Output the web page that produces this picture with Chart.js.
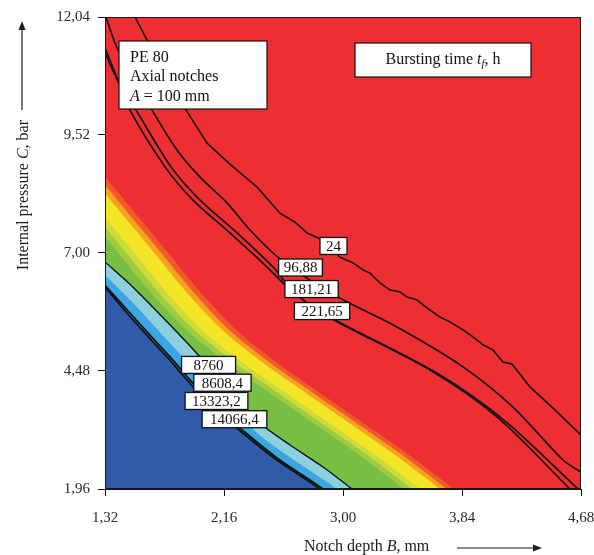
<!DOCTYPE html>
<html><head><meta charset="utf-8">
<script src="https://cdn.jsdelivr.net/npm/chart.js@4.4.1/dist/chart.umd.min.js"></script>
<style>html,body{margin:0;padding:0;background:#fff;}canvas{display:block;}</style>
</head><body>
<canvas id="c" width="594" height="555"></canvas>
<script>
// ---- tick values / labels ----
const xTicks = [1.32, 2.16, 3.00, 3.84, 4.68];
const yTicks = [1.96, 4.48, 7.00, 9.52, 12.04];
const xTickLabels = ['1,32', '2,16', '3,00', '3,84', '4,68'];
const yTickLabels = ['1,96', '4,48', '7,00', '9,52', '12,04'];

// ---- contour lines: notch depth B (mm) vs internal pressure C (bar) ----
const c24B = [1.532,1.616,1.744,1.892,2.040,2.132,2.224,2.393,2.555,2.661,2.746,2.852,2.979,3.071,3.141,3.191,3.261,3.332,3.402,3.452,3.522,3.593,3.685,3.755,3.847,3.918,3.988,4.059,4.129,4.193,4.320,4.496,4.680];
const c24C = [12.04,11.55,10.80,10.05,9.35,9.09,8.84,8.41,7.85,7.66,7.43,7.28,6.91,6.79,6.64,6.57,6.36,6.21,6.17,6.06,6.00,5.83,5.63,5.53,5.36,5.21,5.04,4.93,4.67,4.63,4.14,3.65,3.11];
const c96B = [1.327,1.391,1.482,1.567,1.652,1.828,1.991,2.181,2.344,2.506,2.569,2.767,3.000,3.381,3.847,4.200,4.553,4.680];
const c96C = [12.04,11.48,10.91,10.48,10.05,9.20,8.62,8.07,7.49,7.00,6.85,6.42,6.00,5.42,4.57,3.71,2.58,2.32];
const c181B = [1.320,1.412,1.496,1.744,1.941,2.202,2.464,2.591,2.767,2.958,3.614,4.087,4.602];
const c181C = [11.38,10.69,10.05,8.84,8.13,7.43,6.70,6.32,5.89,5.53,4.50,3.50,1.96];
const c221B = [1.320,1.426,1.539,1.786,1.991,2.252,2.506,2.640,2.816,3.014,3.671,4.144,4.659];
const c221C = [11.27,10.59,10.05,8.84,8.13,7.43,6.70,6.21,5.78,5.46,4.42,3.41,1.96];
const c8760B = [1.320,1.518,1.758,1.991,2.224,2.428,2.626,2.859,3.064];
const c8760C = [6.81,6.27,5.53,4.78,3.97,3.33,2.90,2.43,1.96];
const cLowB = [1.320,1.518,1.758,1.899,2.061,2.224,2.506,2.746,2.838];
const cLowC = [6.27,5.57,4.78,4.29,3.75,3.33,2.64,2.15,1.96];
const cLow2B = [1.320,1.539,1.779,1.920,2.082,2.245,2.527,2.767,2.859];
const cLow2C = [6.31,5.57,4.78,4.29,3.75,3.33,2.64,2.15,1.96];
// boundary between sky blue and light cyan
const skyEdgeB = [1.320,1.518,1.758,1.991,2.224,2.428,2.626,2.859,2.958];
const skyEdgeC = [6.53,5.93,5.14,4.39,3.65,3.07,2.64,2.17,1.96];

// ---- colour band edges of the red-yellow-green transition ----
const bandC = [9.20, 7.96, 7.06, 6.15, 5.36, 4.67, 3.92, 3.18, 2.58, 1.96, 1.30];
const edgeRedOrangeB = [1.165,1.504,1.751,1.998,2.245,2.527,2.880,3.233,3.515,3.784,4.073];
const edgeOrangeB    = [1.115,1.454,1.701,1.948,2.195,2.478,2.831,3.184,3.466,3.734,4.024];
const edgeYellowB    = [1.066,1.405,1.652,1.899,2.146,2.428,2.781,3.134,3.416,3.685,3.974];
const edgeYGreenB    = [0.925,1.264,1.511,1.758,2.005,2.287,2.640,2.993,3.275,3.544,3.833];
const edgeLimeB      = [0.868,1.207,1.454,1.701,1.948,2.231,2.584,2.936,3.219,3.487,3.776];
const edgeGreenB     = [0.812,1.151,1.398,1.645,1.892,2.174,2.527,2.880,3.162,3.431,3.720];

// ---- contour labels ----
const labelTexts = ['24', '96,88', '181,21', '221,65', '8760', '8608,4', '13323,2', '14066,4'];
const labelB = [2.933, 2.700, 2.778, 2.852, 2.051, 2.149, 2.107, 2.234];
const labelC = [7.15, 6.69, 6.23, 5.76, 4.61, 4.23, 3.84, 3.45];

// ---- styles ----
const COL = {
  red: '#ED2E32', redOrange: '#F15A2B', orange: '#F7A21F', yellow: '#F4E626',
  yGreen: '#CBDC3B', lime: '#9FCB41', green: '#77BE45',
  cyan: '#8DD0DD', sky: '#3BA6E1', blue: '#2F5BA8'
};
const SERIF = '"Liberation Serif", "Times New Roman", serif';
const labelPad = [6, 5, 6, 7, 12, 8, 7, 8];

const pts = (b, c) => b.map((v, i) => ({x: v, y: c[i]}));
function contour(b, c, w, tension) {
  return {data: pts(b, c), borderColor: '#111', borderWidth: w, pointRadius: 0,
          tension: tension, fill: false};
}
function region(b, c, color) {
  return {data: pts(b, c), borderColor: 'rgba(0,0,0,0)', borderWidth: 1,
          backgroundColor: color, pointRadius: 0, fill: 'start', tension: 0.3};
}

const datasets = [
  contour(c24B, c24C, 1.5, 0),
  contour(c96B, c96C, 1.6, 0.3),
  contour(c181B, c181C, 1.6, 0.3),
  contour(c221B, c221C, 1.6, 0.3),
  contour(c8760B, c8760C, 1.4, 0.3),
  contour(cLowB, cLowC, 1.8, 0.3),
  contour(cLow2B, cLow2C, 1.8, 0.3),
  region(cLowB, cLowC, COL.blue),
  region(skyEdgeB, skyEdgeC, COL.sky),
  region(c8760B, c8760C, COL.cyan),
  region(edgeGreenB, bandC, COL.green),
  region(edgeLimeB, bandC, COL.lime),
  region(edgeYGreenB, bandC, COL.yGreen),
  region(edgeYellowB, bandC, COL.yellow),
  region(edgeOrangeB, bandC, COL.orange),
  region(edgeRedOrangeB, bandC, COL.redOrange)
];

const bgPlugin = {
  id: 'bg',
  beforeDatasetsDraw(chart) {
    const {ctx, chartArea: a} = chart;
    ctx.save();
    ctx.fillStyle = COL.red;
    ctx.fillRect(a.left, a.top, a.right - a.left, a.bottom - a.top);
    ctx.restore();
  }
};

function richText(ctx, parts, x, y) {
  let cx = x;
  for (const [t, s] of parts) {
    if (s === 's') { ctx.font = 'italic 11px ' + SERIF; ctx.fillText(t, cx, y + 4); }
    else { ctx.font = (s === 'i' ? 'italic ' : '') + '16px ' + SERIF; ctx.fillText(t, cx, y); }
    cx += ctx.measureText(t).width;
  }
  return cx - x;
}
function richWidth(ctx, parts, size) {
  let w = 0;
  for (const [t, s] of parts) {
    ctx.font = (s === 'n' ? '' : 'italic ') + (s === 's' ? '11px ' : size + 'px ') + SERIF;
    w += ctx.measureText(t).width;
  }
  return w;
}

const overlayPlugin = {
  id: 'overlay',
  afterDatasetsDraw(chart) {
    const {ctx, chartArea: a, scales} = chart;
    ctx.save();
    ctx.strokeStyle = '#1a1a1a';
    ctx.lineWidth = 1;
    ctx.strokeRect(a.left + 0.5, a.top + 0.5, a.right - a.left - 1, a.bottom - a.top - 1);
    ctx.font = '15px ' + SERIF;
    ctx.textAlign = 'center';
    ctx.textBaseline = 'middle';
    labelTexts.forEach((t, i) => {
      const px = scales.x.getPixelForValue(labelB[i]);
      const py = scales.y.getPixelForValue(labelC[i]);
      const w = ctx.measureText(t).width + 2 * labelPad[i], h = 17;
      ctx.fillStyle = '#fff';
      ctx.fillRect(px - w / 2, py - h / 2, w, h);
      ctx.strokeStyle = '#111';
      ctx.lineWidth = 1.3;
      ctx.strokeRect(px - w / 2, py - h / 2, w, h);
      ctx.fillStyle = '#111';
      ctx.fillText(t, px, py + 1);
    });
    const bx = a.left + 14, by = a.top + 24;
    ctx.fillStyle = '#fff';
    ctx.fillRect(bx, by, 148, 68);
    ctx.lineWidth = 1.2;
    ctx.strokeRect(bx, by, 148, 68);
    ctx.fillStyle = '#111';
    ctx.textAlign = 'left';
    ctx.textBaseline = 'middle';
    ctx.font = '16px ' + SERIF;
    ctx.fillText('PE 80', bx + 11, by + 17);
    ctx.fillText('Axial notches', bx + 11, by + 36);
    richText(ctx, [['A', 'i'], [' = 100 mm', 'n']], bx + 11, by + 56);
    const tx = a.left + 250, ty = a.top + 26;
    ctx.fillStyle = '#fff';
    ctx.fillRect(tx, ty, 176, 34);
    ctx.strokeRect(tx, ty, 176, 34);
    ctx.fillStyle = '#111';
    const parts = [['Bursting time ', 'n'], ['t', 'i'], ['f', 's'], [', h', 'n']];
    const tw = richWidth(ctx, parts, 16);
    richText(ctx, parts, tx + 88 - tw / 2, ty + 17);
    ctx.restore();
  },
  afterDraw(chart) {
    const {ctx} = chart;
    ctx.save();
    ctx.fillStyle = '#1c1c1c';
    ctx.strokeStyle = '#1c1c1c';
    ctx.textBaseline = 'middle';
    ctx.textAlign = 'left';
    const yParts = [['Internal pressure ', 'n'], ['C', 'i'], [', bar', 'n']];
    const yw = richWidth(ctx, yParts, 16);
    ctx.save();
    ctx.translate(24, 120);
    ctx.rotate(-Math.PI / 2);
    richText(ctx, yParts, -yw, 0);
    ctx.restore();
    ctx.lineWidth = 1.2;
    ctx.beginPath(); ctx.moveTo(22, 110); ctx.lineTo(22, 28); ctx.stroke();
    ctx.beginPath(); ctx.moveTo(22, 21); ctx.lineTo(18.5, 30); ctx.lineTo(25.5, 30); ctx.closePath(); ctx.fill();
    richText(ctx, [['Notch depth ', 'n'], ['B', 'i'], [', mm', 'n']], 304, 547);
    ctx.beginPath(); ctx.moveTo(457, 548); ctx.lineTo(534, 548); ctx.stroke();
    ctx.beginPath(); ctx.moveTo(542, 548); ctx.lineTo(533, 544.5); ctx.lineTo(533, 551.5); ctx.closePath(); ctx.fill();
    ctx.restore();
  }
};

new Chart(document.getElementById('c'), {
  type: 'line',
  data: {datasets},
  options: {
    responsive: false,
    animation: false,
    events: [],
    layout: {padding: {top: 17, right: 13, left: 0, bottom: 0}},
    plugins: {legend: {display: false}, tooltip: {enabled: false}},
    scales: {
      x: {
        type: 'linear', min: xTicks[0], max: xTicks[xTicks.length - 1],
        afterBuildTicks: s => { s.ticks = xTicks.map(v => ({value: v})); },
        afterFit: s => { s.height = 66; s.paddingLeft = 0; s.paddingRight = 0; },
        grid: {drawOnChartArea: false, drawTicks: true, tickLength: 7, color: '#111'},
        border: {display: true, color: '#111', width: 1},
        ticks: {
          autoSkip: false, maxRotation: 0, padding: 13, color: '#2a2a2a',
          font: {family: SERIF, size: 15},
          callback: v => xTickLabels[xTicks.findIndex(t => Math.abs(t - v) < 1e-6)]
        }
      },
      y: {
        type: 'linear', min: yTicks[0], max: yTicks[yTicks.length - 1],
        afterBuildTicks: s => { s.ticks = yTicks.map(v => ({value: v})); },
        afterFit: s => { s.width = 105; s.paddingTop = 0; s.paddingBottom = 0; },
        grid: {drawOnChartArea: false, drawTicks: true, tickLength: 7, color: '#111'},
        border: {display: true, color: '#111', width: 1},
        ticks: {
          autoSkip: false, padding: 8, color: '#2a2a2a',
          font: {family: SERIF, size: 15},
          callback: v => yTickLabels[yTicks.findIndex(t => Math.abs(t - v) < 1e-6)]
        }
      }
    }
  },
  plugins: [bgPlugin, overlayPlugin]
});
</script>
</body></html>
